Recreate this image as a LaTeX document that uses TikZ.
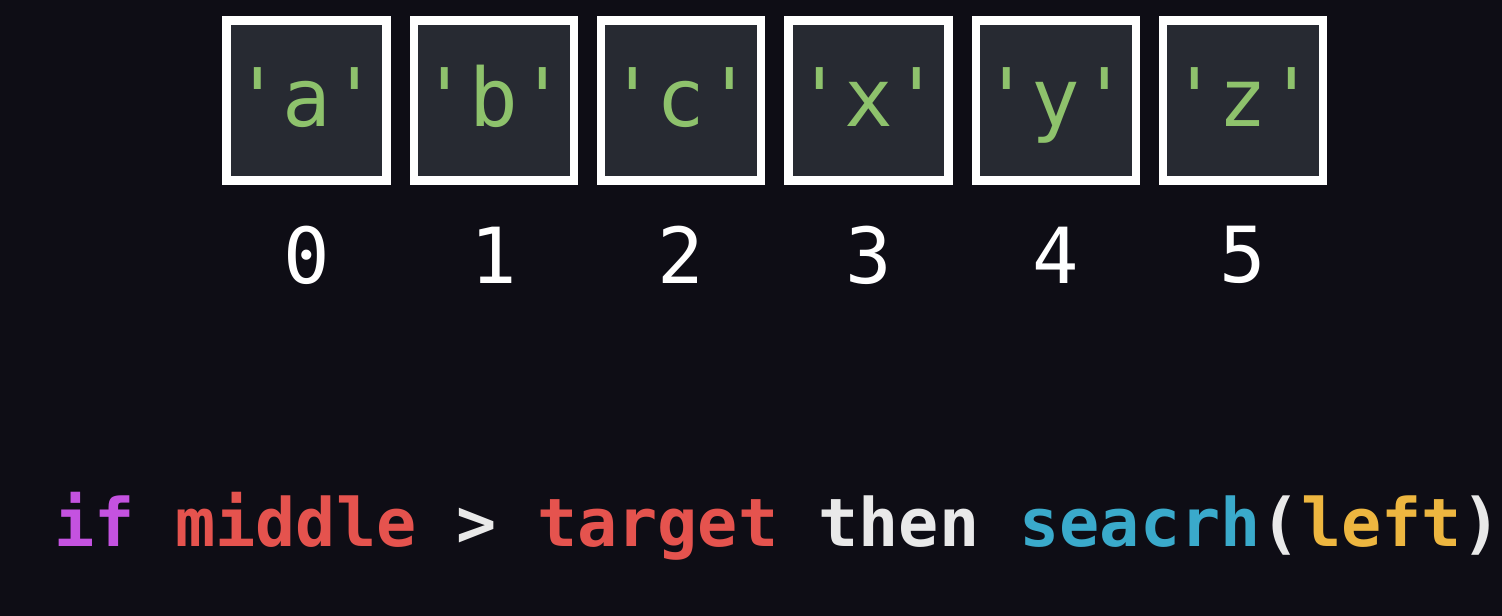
\documentclass[tikz,border=0pt]{standalone}
\usepackage{fontspec}
\setmonofont{DejaVu Sans Mono}
\usepackage{xcolor}
\usepackage{tikz}

\definecolor{bgdark}{HTML}{0E0D15}
\definecolor{cellfill}{HTML}{272A32}
\definecolor{chargreen}{HTML}{8EC26C}
\definecolor{kwpurple}{HTML}{C452E0}
\definecolor{varred}{HTML}{E5534E}
\definecolor{plainwhite}{HTML}{E9E9E9}
\definecolor{fncyan}{HTML}{3AAACB}
\definecolor{argyellow}{HTML}{EDB640}

\tikzset{
  cell/.style={draw=white, line width=2.4pt, fill=cellfill, minimum size=1.6cm,
    inner sep=0pt, text=chargreen, font=\ttfamily\fontsize{23}{28}\selectfont,
    text height=15pt, text depth=0pt},
  idx/.style={text=white, inner sep=0pt, font=\ttfamily\fontsize{22}{26}\selectfont},
  code/.style={inner sep=0pt, anchor=base west, font=\ttfamily\bfseries\fontsize{19}{23}\selectfont}
}

\begin{document}
\begin{tikzpicture}
% Background
\fill[bgdark] (0,0) rectangle (15.02,-6.16);
\useasboundingbox (0,0) rectangle (15.02,-6.16);

% Array cells and indices
\foreach \ch [count=\i from 0] in {a,b,c,x,y,z} {
  \node[cell] (cell\i) at ({3.065+1.873*\i},-1.005) {'\ch'};
  \node[idx] (idx\i) at ({3.065+1.873*\i},-2.55) {\i};
}

% Condition line
\node[code] (cond) at (0.54,-5.47) {%
  \textcolor{kwpurple}{if} \textcolor{varred}{middle} \textcolor{plainwhite}{>}
  \textcolor{varred}{target} \textcolor{plainwhite}{then}
  \textcolor{fncyan}{seacrh}\textcolor{plainwhite}{(}\textcolor{argyellow}{left}\textcolor{plainwhite}{)}};
\end{tikzpicture}
\end{document}
